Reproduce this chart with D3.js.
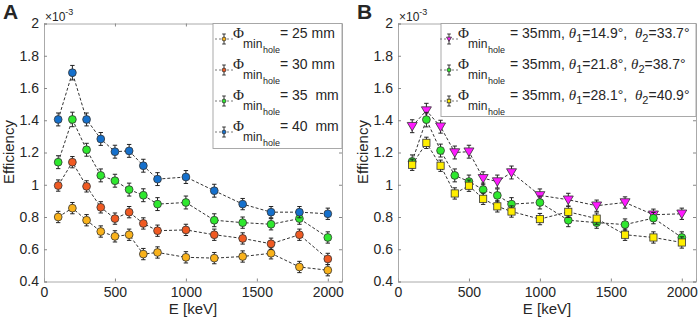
<!DOCTYPE html>
<html>
<head>
<meta charset="utf-8">
<script src="https://cdn.jsdelivr.net/npm/d3@7"></script>
<style>
  body { margin: 0; background: #fff; }
  svg text { font-family: "Liberation Sans", Arial, sans-serif; fill: #262626; }
</style>
</head>
<body>
<div id="chart"></div>
<script>
// energies (keV)
var energies = [100, 200, 300, 400, 500, 600, 700, 800, 1000, 1200, 1400, 1600, 1800, 2000];

// panel A, efficiency x1e-3
var effA25 = [0.80, 0.855, 0.78, 0.71, 0.68, 0.69, 0.57, 0.58, 0.55, 0.545, 0.555, 0.575, 0.49, 0.47];
var effA30 = [0.995, 1.14, 0.99, 0.86, 0.79, 0.83, 0.76, 0.715, 0.72, 0.69, 0.667, 0.634, 0.69, 0.54];
var effA35 = [1.14, 1.405, 1.217, 1.058, 1.025, 0.97, 0.935, 0.88, 0.89, 0.78, 0.765, 0.755, 0.79, 0.673];
var effA40 = [1.405, 1.695, 1.405, 1.284, 1.205, 1.21, 1.118, 1.035, 1.048, 0.963, 0.88, 0.83, 0.83, 0.82];

// panel B
var effB149 = [1.363, 1.46, 1.36, 1.20, 1.205, 1.04, 1.02, 1.076, 0.934, 0.907, 0.87, 0.89, 0.814, 0.82];
var effB218 = [1.145, 1.404, 1.212, 1.058, 1.02, 0.97, 0.934, 0.88, 0.89, 0.78, 0.765, 0.753, 0.793, 0.673];
var effB281 = [1.124, 1.26, 1.118, 0.946, 0.994, 0.913, 0.866, 0.834, 0.787, 0.832, 0.79, 0.69, 0.673, 0.642];

// error bar half-lengths
var errSmall = [0.035, 0.035, 0.035, 0.035, 0.035, 0.035, 0.035, 0.035, 0.035, 0.035, 0.035, 0.035, 0.035, 0.035];
var errLarge = [0.04, 0.045, 0.04, 0.04, 0.04, 0.04, 0.04, 0.04, 0.04, 0.04, 0.035, 0.035, 0.035, 0.035];

var xTicks = [0, 500, 1000, 1500, 2000];
var yTicks = [0.4, 0.6, 0.8, 1, 1.2, 1.4, 1.6, 1.8, 2];

var width = 699, height = 317;

var svg = d3.select("#chart")
    .append("svg")
    .attr("width", width)
    .attr("height", height);

function drawMarker(g, shape, x, y, color, s) {
    if (shape == "circle") {
        g.append("circle")
            .attr("cx", x).attr("cy", y).attr("r", 3.9 * s)
            .attr("fill", color).attr("stroke", "#333").attr("stroke-width", 0.8);
    } else if (shape == "square") {
        var h = 3.6 * s;
        g.append("rect")
            .attr("x", x - h).attr("y", y - h).attr("width", 2 * h).attr("height", 2 * h)
            .attr("fill", color).attr("stroke", "#333").attr("stroke-width", 0.8);
    } else {
        var a = 5 * s;
        g.append("path")
            .attr("d", "M" + (x - a) + "," + (y - a * 0.75) + "L" + (x + a) + "," + (y - a * 0.75) + "L" + x + "," + (y + a * 0.95) + "Z")
            .attr("fill", color).attr("stroke", "#333").attr("stroke-width", 0.8);
    }
}

function drawPanel(opt) {
    var x = d3.scaleLinear().domain([0, 2100]).range([opt.left, opt.left + 298]);
    var y = d3.scaleLinear().domain([0.4, 2]).range([281.5, 23.5]);

    var g = svg.append("g");

    // box + ticks
    g.append("g").attr("transform", "translate(0,281.5)")
        .call(d3.axisBottom(x).tickValues(xTicks).tickSize(-3).tickPadding(6).tickFormat(d3.format("d")));
    g.append("g").attr("transform", "translate(0,23.5)")
        .call(d3.axisTop(x).tickValues(xTicks).tickSize(-3).tickFormat(""));
    g.append("g").attr("transform", "translate(" + x(0) + ",0)")
        .call(d3.axisLeft(y).tickValues(yTicks).tickSize(-3).tickPadding(5).tickFormat(d3.format("~g")));
    g.append("g").attr("transform", "translate(" + x(2100) + ",0)")
        .call(d3.axisRight(y).tickValues(yTicks).tickSize(-3).tickFormat(""));
    g.selectAll(".domain").attr("stroke", "#a0a0a0").attr("stroke-width", 0.9);
    g.selectAll(".tick line").attr("stroke", "#888");
    g.selectAll(".tick text").attr("font-size", 14).attr("fill", "#262626");

    // exponent
    var ex = g.append("text").attr("x", x(0) + 1).attr("y", 21).attr("font-size", 12);
    ex.append("tspan").text("\u00d710");
    ex.append("tspan").attr("dy", -6).attr("font-size", 9).text("-3");

    // labels
    g.append("text").attr("x", opt.left - 41).attr("y", 19)
        .attr("font-size", 21).attr("font-weight", "bold").attr("fill", "#000").text(opt.letter);
    g.append("text").attr("x", (x(0) + x(2100)) / 2).attr("y", 314)
        .attr("text-anchor", "middle").attr("font-size", 15).text("E [keV]");
    g.append("text")
        .attr("transform", "translate(" + (opt.left - 30) + ",152) rotate(-90)")
        .attr("text-anchor", "middle").attr("font-size", 15).text("Efficiency");

    var line = d3.line()
        .x(function(d, i) { return x(energies[i]); })
        .y(function(d) { return y(d); });

    opt.series.forEach(function(s) {
        var sg = g.append("g");
        sg.append("path").datum(s.values)
            .attr("d", line).attr("fill", "none")
            .attr("stroke", "#333").attr("stroke-width", 1).attr("stroke-dasharray", "3,2");
        s.values.forEach(function(v, i) {
            var xx = x(energies[i]);
            var e = s.err[i];
            sg.append("line").attr("x1", xx).attr("x2", xx).attr("y1", y(v - e)).attr("y2", y(v + e))
                .attr("stroke", "#222").attr("stroke-width", 1);
            [v - e, v + e].forEach(function(c) {
                sg.append("line").attr("x1", xx - 2.2).attr("x2", xx + 2.2).attr("y1", y(c)).attr("y2", y(c))
                    .attr("stroke", "#222").attr("stroke-width", 1);
            });
            drawMarker(sg, s.shape, xx, y(v), s.color, 1);
        });
    });

    // legend
    var lg = g.append("g");
    lg.append("rect")
        .attr("x", opt.legX).attr("y", 23.5)
        .attr("width", x(2100) - opt.legX).attr("height", opt.legH)
        .attr("fill", "#fff").attr("stroke", "#a0a0a0").attr("stroke-width", 0.9);
    opt.series.slice().sort(function(a, b) { return a.legendOrder - b.legendOrder; }).forEach(function(s, k) {
        var cy = 39 + k * 31;
        var mx = opt.legX + opt.markDx;
        lg.append("line").attr("x1", mx - 9).attr("x2", mx + 9).attr("y1", cy).attr("y2", cy)
            .attr("stroke", "#555").attr("stroke-width", 0.8).attr("stroke-dasharray", "2,2");
        lg.append("line").attr("x1", mx).attr("x2", mx).attr("y1", cy - 5).attr("y2", cy + 5)
            .attr("stroke", "#222").attr("stroke-width", 0.9);
        [cy - 5, cy + 5].forEach(function(c) {
            lg.append("line").attr("x1", mx - 1.8).attr("x2", mx + 1.8).attr("y1", c).attr("y2", c)
                .attr("stroke", "#222").attr("stroke-width", 0.9);
        });
        drawMarker(lg, s.shape, mx, cy, s.color, 0.5);

        var tx = mx + 9;
        lg.append("text").attr("x", tx).attr("y", cy - 1)
            .attr("font-size", 15).style("font-family", "'Liberation Serif', serif").text("\u03a6");
        lg.append("text").attr("x", tx + 10).attr("y", cy + 9).attr("font-size", 12).text("min");
        lg.append("text").attr("x", tx + 30).attr("y", cy + 14).attr("font-size", 9).text("hole");
        var t = lg.append("text").attr("x", tx + opt.eqDx).attr("y", cy - 1).attr("font-size", 14);
        s.label.forEach(function(p) {
            var ts = t.append("tspan").text(p.t);
            if (p.it) ts.attr("font-style", "italic").style("font-family", "'Liberation Serif', serif").attr("font-size", 15);
            if (p.sub) ts.attr("dy", 4).attr("font-size", 11);
            if (p.up) ts.attr("dy", -4);
        });
    });
}

drawPanel({
    letter: "A", left: 44, legX: 213, legH: 125, markDx: 11, eqDx: 47,
    series: [
        {values: effA25, err: errSmall, color: "#f9b21b", shape: "circle", legendOrder: 0, label: [{t: "= 25 mm"}]},
        {values: effA30, err: errSmall, color: "#f05a22", shape: "circle", legendOrder: 1, label: [{t: "= 30 mm"}]},
        {values: effA35, err: errLarge, color: "#2ee82e", shape: "circle", legendOrder: 2, label: [{t: "= 35\u00a0 mm"}]},
        {values: effA40, err: errLarge, color: "#1570cc", shape: "circle", legendOrder: 3, label: [{t: "= 40\u00a0 mm"}]}
    ]
});

drawPanel({
    letter: "B", left: 398, legX: 441, legH: 93, markDx: 8, eqDx: 52,
    series: [
        {values: effB149, err: errLarge, color: "#ff1aff", shape: "triangle", legendOrder: 0,
         label: [{t: "= 35mm, "}, {t: "\u03b8", it: true}, {t: "1", sub: true}, {t: "=14.9\u00b0,\u00a0 ", up: true}, {t: "\u03b8", it: true}, {t: "2", sub: true}, {t: "=33.7\u00b0", up: true}]},
        {values: effB218, err: errLarge, color: "#2ee82e", shape: "circle", legendOrder: 1,
         label: [{t: "= 35mm, "}, {t: "\u03b8", it: true}, {t: "1", sub: true}, {t: "=21.8\u00b0, ", up: true}, {t: "\u03b8", it: true}, {t: "2", sub: true}, {t: "=38.7\u00b0", up: true}]},
        {values: effB281, err: errSmall, color: "#ffee00", shape: "square", legendOrder: 2,
         label: [{t: "= 35mm, "}, {t: "\u03b8", it: true}, {t: "1", sub: true}, {t: "=28.1\u00b0,\u00a0 ", up: true}, {t: "\u03b8", it: true}, {t: "2", sub: true}, {t: "=40.9\u00b0", up: true}]}
    ]
});
</script>
</body>
</html>
